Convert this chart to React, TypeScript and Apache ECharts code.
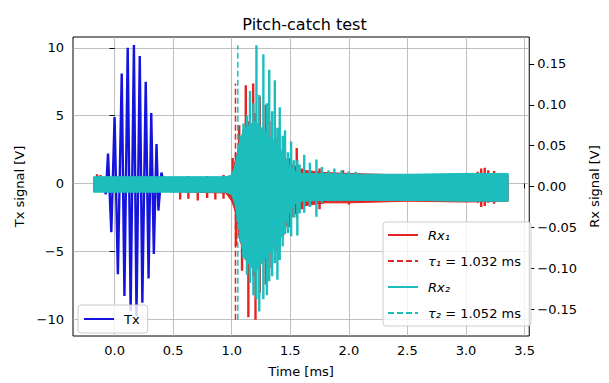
import React, { useEffect, useRef } from "react";
import * as echarts from "echarts";

// ---- tick values ----
const xTicks = [0, 0.5, 1, 1.5, 2, 2.5, 3, 3.5];
const txTicks = [-10, -5, 0, 5, 10];
const rxTicks = [-0.15, -0.1, -0.05, 0, 0.05, 0.1, 0.15];

// ---- Tx burst (left axis): extrema ----
const txTime = [-0.18, -0.095, -0.075, -0.056, -0.028, 0.0, 0.028, 0.061, 0.084, 0.112, 0.137, 0.165, 0.187, 0.215, 0.237, 0.266, 0.29, 0.313, 0.335, 0.358, 0.374, 0.4, 0.42, 3.36];
const txValue = [0, 0, -0.8, 2.2, -3.6, 4.9, -6.7, 8.1, -8.3, 10.0, -9.4, 10.2, -9.8, 9.4, -8.8, 7.5, -7.0, 5.2, -5.2, 2.9, -2.0, 0.8, 0, 0];

// ---- Rx1: dense core envelope ----
const rx1CoreTime = [-0.18, 0.4, 0.95, 1.0, 1.03, 1.06, 1.1, 1.2, 1.3, 1.4, 1.5, 1.6, 1.8, 2.0, 2.5, 3.0, 3.36];
const rx1CoreHigh = [0.011, 0.011, 0.011, 0.013, 0.03, 0.05, 0.065, 0.072, 0.06, 0.045, 0.028, 0.02, 0.017, 0.016, 0.014, 0.015, 0.014];
const rx1CoreLow = [-0.006, -0.006, -0.008, -0.018, -0.03, -0.06, -0.08, -0.1, -0.085, -0.065, -0.04, -0.024, -0.02, -0.02, -0.018, -0.019, -0.018];
// ---- Rx1: individual swings ----
const rx1PeakTime = [-0.15, -0.12, 0.56, 0.63, 0.71, 0.79, 0.86, 0.93, 1.008, 1.036, 1.064, 1.088, 1.12, 1.142, 1.183, 1.203, 1.24, 1.29, 1.34, 1.39, 1.44, 1.49, 1.555, 1.6, 1.75, 1.95, 2.0, 3.1, 3.13, 3.16, 3.19, 3.24];
const rx1PeakHigh = [0.015, 0.014, 0.012, 0.013, 0.012, 0.013, 0.012, 0.014, 0.035, 0.04, 0.075, 0.06, 0.124, 0.08, 0.126, 0.09, 0.11, 0.1, 0.08, 0.06, 0.045, 0.035, 0.047, 0.022, 0.022, 0.02, 0.018, 0.018, 0.022, 0.023, 0.02, 0.019];
const rx1PeakLow = [-0.005, -0.005, -0.016, -0.015, -0.017, -0.014, -0.016, -0.015, -0.018, -0.073, -0.06, -0.103, -0.09, -0.16, -0.11, -0.163, -0.13, -0.12, -0.1, -0.08, -0.06, -0.05, -0.038, -0.028, -0.028, -0.02, -0.022, -0.02, -0.025, -0.024, -0.02, -0.021];

// ---- Rx2: dense core envelope ----
const rx2CoreTime = [-0.18, 0.5, 0.95, 1.0, 1.03, 1.06, 1.1, 1.2, 1.3, 1.4, 1.45, 1.5, 1.55, 1.6, 1.8, 2.0, 2.5, 3.0, 3.36];
const rx2CoreHigh = [0.012, 0.012, 0.012, 0.014, 0.027, 0.05, 0.07, 0.08, 0.065, 0.05, 0.037, 0.024, 0.018, 0.016, 0.016, 0.015, 0.015, 0.016, 0.016];
const rx2CoreLow = [-0.007, -0.007, -0.007, -0.01, -0.023, -0.05, -0.085, -0.105, -0.085, -0.07, -0.05, -0.028, -0.02, -0.018, -0.017, -0.017, -0.017, -0.018, -0.018];
// ---- Rx2: individual swings ----
const rx2PeakTime = [1.05, 1.075, 1.1, 1.13, 1.156, 1.185, 1.211, 1.235, 1.27, 1.3, 1.32, 1.345, 1.368, 1.39, 1.41, 1.435, 1.455, 1.48, 1.507, 1.53, 1.56, 1.58, 1.619, 1.667, 1.723, 1.77, 1.826, 1.876, 1.937, 2.0, 2.058];
const rx2PeakHigh = [0.037, 0.062, 0.077, 0.087, 0.117, 0.102, 0.173, 0.112, 0.162, 0.102, 0.143, 0.092, 0.13, 0.072, 0.097, 0.062, 0.069, 0.042, 0.055, 0.032, 0.032, 0.027, 0.039, 0.029, 0.033, 0.024, 0.02, 0.022, 0.02, 0.018, 0.018];
const rx2PeakLow = [-0.043, -0.068, -0.088, -0.108, -0.118, -0.133, -0.138, -0.153, -0.138, -0.133, -0.116, -0.11, -0.094, -0.114, -0.09, -0.073, -0.058, -0.057, -0.061, -0.038, -0.06, -0.033, -0.032, -0.025, -0.037, -0.02, -0.018, -0.018, -0.018, -0.017, -0.017];

// ---- arrival times ----
const tau1 = 1.032;
const tau2 = 1.052;
const tau1Span = [-0.163, 0.126];
const tau2Span = [-0.163, 0.173];

const FONT = "DejaVu Sans";
const TX_COLOR = "#1414dc";
const RX1_COLOR = "#e22424";
const RX2_COLOR = "#1dbdbd";

const minus = (s: string) => s.replace("-", "\u2212");

const NAME_TX = "Tx";
const NAME_RX1 = "Rx\u2081";
const NAME_TAU1 = `\u03c4\u2081 = ${tau1.toFixed(3)} ms`;
const NAME_RX2 = "Rx\u2082";
const NAME_TAU2 = `\u03c4\u2082 = ${tau2.toFixed(3)} ms`;

function zip(t: number[], v: number[]) {
  return t.map((x, i) => [x, v[i]]);
}
function columns(t: number[], hi: number[], lo: number[]) {
  const out: any[] = [];
  t.forEach((x, i) => {
    out.push([x, hi[i]]);
    out.push([x, lo[i]]);
    out.push([x, null]);
  });
  return out;
}
// envelope band drawn segment by segment through the axis scales
function band(t: number[], hi: number[], lo: number[], color: string, z: number) {
  const data = t.slice(0, -1).map((x, i) => [x, hi[i], lo[i], t[i + 1], hi[i + 1], lo[i + 1]]);
  return {
    type: "custom",
    yAxisIndex: 1,
    silent: true,
    z,
    data,
    encode: { x: [0, 3], y: [1, 2, 4, 5] },
    renderItem: (_p: any, api: any) => {
      const a = api.coord([api.value(0), api.value(1)]);
      const b = api.coord([api.value(3), api.value(4)]);
      const c = api.coord([api.value(3), api.value(5)]);
      const d = api.coord([api.value(0), api.value(2)]);
      return {
        type: "polygon",
        shape: { points: [a, b, c, d] },
        style: { fill: color, stroke: color, lineWidth: 1 },
      };
    },
  };
}

export default function App() {
  const ref = useRef<HTMLDivElement>(null);
  useEffect(() => {
    if (!ref.current) return;
    const chart = echarts.init(ref.current, undefined, { renderer: "svg" });
    const axisText = { fontFamily: FONT, fontSize: 13, color: "#000" };
    const legendRich = { it: { fontFamily: FONT, fontSize: 13, fontStyle: "italic", color: "#000" } };
    const legendLabel: Record<string, string> = {
      [NAME_TX]: NAME_TX,
      [NAME_RX1]: `{it|${NAME_RX1}}`,
      [NAME_TAU1]: `{it|\u03c4\u2081} = ${tau1.toFixed(3)} ms`,
      [NAME_RX2]: `{it|${NAME_RX2}}`,
      [NAME_TAU2]: `{it|\u03c4\u2082} = ${tau2.toFixed(3)} ms`,
    };
    const legendBase = {
      orient: "vertical",
      backgroundColor: "rgba(255,255,255,0.8)",
      borderColor: "#cccccc",
      borderWidth: 1,
      borderRadius: 3,
      itemWidth: 30,
      itemHeight: 14,
      itemGap: 10,
      z: 20,
      itemStyle: { opacity: 0 },
      formatter: (n: string) => legendLabel[n] ?? n,
      textStyle: { fontFamily: FONT, fontSize: 13, color: "#000", lineHeight: 16, padding: [0, 0, 0, 5], rich: legendRich },
    };
    const option: any = {
      animation: false,
      textStyle: { fontFamily: FONT },
      title: {
        text: "Pitch-catch test",
        left: "center",
        top: 11,
        textStyle: { fontFamily: FONT, fontSize: 16, fontWeight: "normal", color: "#000" },
      },
      grid: { left: 73, right: 72, top: 37, bottom: 47, show: true, borderColor: "#000", borderWidth: 1 },
      legend: [
        { ...legendBase, data: [NAME_TX], left: 78, top: 305, padding: [6, 8, 6, 5] },
        { ...legendBase, data: [NAME_RX1, NAME_TAU1, NAME_RX2, NAME_TAU2], left: 383, top: 222, padding: [5, 10, 5, 4] },
      ],
      xAxis: {
        type: "value",
        min: -0.355,
        max: 3.54,
        axisLine: { show: false },
        axisTick: { show: true, customValues: xTicks, length: 5, lineStyle: { color: "#000" } },
        axisLabel: { customValues: xTicks, formatter: (v: number) => v.toFixed(1), margin: 8, ...axisText },
        splitLine: { show: true, lineStyle: { color: "#b0b0b0", width: 0.8 } },
        name: "Time [ms]",
        nameLocation: "middle",
        nameGap: 29,
        nameTextStyle: axisText,
      },
      yAxis: [
        {
          type: "value",
          position: "left",
          min: -11.25,
          max: 10.8,
          axisLine: { show: false },
          axisTick: { show: true, customValues: txTicks, length: 5, lineStyle: { color: "#000" } },
          axisLabel: { customValues: txTicks, formatter: (v: number) => minus(String(v)), margin: 9, ...axisText },
          splitLine: { show: true, lineStyle: { color: "#b0b0b0", width: 0.8 } },
          name: "Tx signal [V]",
          nameLocation: "middle",
          nameRotate: 90,
          nameGap: 47,
          nameTextStyle: axisText,
        },
        {
          type: "value",
          position: "right",
          min: -0.183,
          max: 0.183,
          axisLine: { show: false },
          axisTick: { show: true, customValues: rxTicks, length: 5, lineStyle: { color: "#000" } },
          axisLabel: { customValues: rxTicks, formatter: (v: number) => minus(v.toFixed(2)), margin: 8, ...axisText },
          splitLine: { show: false },
          name: "Rx signal [V]",
          nameLocation: "middle",
          nameRotate: 90,
          nameGap: 53,
          nameTextStyle: axisText,
        },
      ],
      series: [
        {
          type: "line",
          name: NAME_TX,
          yAxisIndex: 0,
          z: 1,
          symbol: "none",
          data: zip(txTime, txValue),
          lineStyle: { color: TX_COLOR, width: 2.4 },
          itemStyle: { color: TX_COLOR },
        },
        band(rx1CoreTime, rx1CoreHigh, rx1CoreLow, RX1_COLOR, 2),
        {
          type: "line",
          name: NAME_RX1,
          yAxisIndex: 1,
          z: 3,
          symbol: "none",
          connectNulls: false,
          data: columns(rx1PeakTime, rx1PeakHigh, rx1PeakLow),
          lineStyle: { color: RX1_COLOR, width: 2.4 },
          itemStyle: { color: RX1_COLOR },
        },
        {
          type: "line",
          name: NAME_TAU1,
          yAxisIndex: 1,
          z: 4,
          symbol: "none",
          data: [[tau1, tau1Span[0]], [tau1, tau1Span[1]]],
          lineStyle: { color: RX1_COLOR, width: 1.5, type: [6, 3] },
          itemStyle: { color: RX1_COLOR },
        },
        band(rx2CoreTime, rx2CoreHigh, rx2CoreLow, RX2_COLOR, 5),
        {
          type: "line",
          name: NAME_RX2,
          yAxisIndex: 1,
          z: 6,
          symbol: "none",
          connectNulls: false,
          data: columns(rx2PeakTime, rx2PeakHigh, rx2PeakLow),
          lineStyle: { color: RX2_COLOR, width: 2.4 },
          itemStyle: { color: RX2_COLOR },
        },
        {
          type: "line",
          name: NAME_TAU2,
          yAxisIndex: 1,
          z: 7,
          symbol: "none",
          data: [[tau2, tau2Span[0]], [tau2, tau2Span[1]]],
          lineStyle: { color: RX2_COLOR, width: 1.5, type: [6, 3] },
          itemStyle: { color: RX2_COLOR },
        },
      ],
    };
    chart.setOption(option);
    return () => chart.dispose();
  }, []);
  return <div ref={ref} style={{ position: "absolute", left: 0, top: 0, width: 609, height: 383 }} />;
}
